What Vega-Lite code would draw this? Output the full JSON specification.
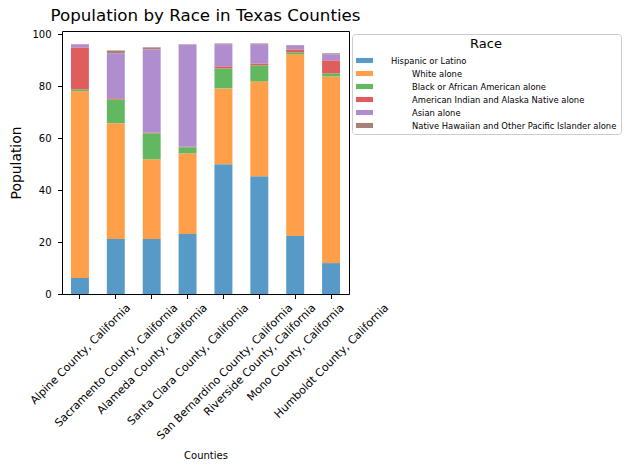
{
  "$schema": "https://vega.github.io/schema/vega-lite/v6.json",
  "autosize": {"type": "none"},
  "padding": {"left": 62, "top": 31, "right": 281, "bottom": 176},
  "width": 287,
  "height": 263,
  "title": {"text": "Population by Race in Texas Counties", "fontSize": 16.7, "font": "DejaVu Sans", "fontWeight": "normal", "color": "black", "anchor": "middle", "offset": 5},
  "config": {
    "font": "DejaVu Sans",
    "view": {"stroke": "black", "strokeWidth": 1},
    "axis": {"labelColor": "black", "titleColor": "black", "tickColor": "black", "domainColor": "black", "titleFontWeight": "normal", "grid": false}
  },
  "data": {"values": [
    {"county": "Alpine County, California", "race": "Hispanic or Latino", "pct": 6.2},
    {"county": "Alpine County, California", "race": "White alone", "pct": 71.9},
    {"county": "Alpine County, California", "race": "Black or African American alone", "pct": 0.7},
    {"county": "Alpine County, California", "race": "American Indian and Alaska Native alone", "pct": 16.2},
    {"county": "Alpine County, California", "race": "Asian alone", "pct": 1.2},
    {"county": "Alpine County, California", "race": "Native Hawaiian and Other Pacific Islander alone", "pct": 0.0},
    {"county": "Sacramento County, California", "race": "Hispanic or Latino", "pct": 21.2},
    {"county": "Sacramento County, California", "race": "White alone", "pct": 44.6},
    {"county": "Sacramento County, California", "race": "Black or African American alone", "pct": 9.2},
    {"county": "Sacramento County, California", "race": "American Indian and Alaska Native alone", "pct": 0.4},
    {"county": "Sacramento County, California", "race": "Asian alone", "pct": 17.3},
    {"county": "Sacramento County, California", "race": "Native Hawaiian and Other Pacific Islander alone", "pct": 1.1},
    {"county": "Alameda County, California", "race": "Hispanic or Latino", "pct": 21.2},
    {"county": "Alameda County, California", "race": "White alone", "pct": 30.7},
    {"county": "Alameda County, California", "race": "Black or African American alone", "pct": 10.0},
    {"county": "Alameda County, California", "race": "American Indian and Alaska Native alone", "pct": 0.3},
    {"county": "Alameda County, California", "race": "Asian alone", "pct": 32.0},
    {"county": "Alameda County, California", "race": "Native Hawaiian and Other Pacific Islander alone", "pct": 0.8},
    {"county": "Santa Clara County, California", "race": "Hispanic or Latino", "pct": 23.1},
    {"county": "Santa Clara County, California", "race": "White alone", "pct": 31.1},
    {"county": "Santa Clara County, California", "race": "Black or African American alone", "pct": 2.3},
    {"county": "Santa Clara County, California", "race": "American Indian and Alaska Native alone", "pct": 0.2},
    {"county": "Santa Clara County, California", "race": "Asian alone", "pct": 39.4},
    {"county": "Santa Clara County, California", "race": "Native Hawaiian and Other Pacific Islander alone", "pct": 0.1},
    {"county": "San Bernardino County, California", "race": "Hispanic or Latino", "pct": 50.0},
    {"county": "San Bernardino County, California", "race": "White alone", "pct": 29.2},
    {"county": "San Bernardino County, California", "race": "Black or African American alone", "pct": 7.7},
    {"county": "San Bernardino County, California", "race": "American Indian and Alaska Native alone", "pct": 0.8},
    {"county": "San Bernardino County, California", "race": "Asian alone", "pct": 8.5},
    {"county": "San Bernardino County, California", "race": "Native Hawaiian and Other Pacific Islander alone", "pct": 0.3},
    {"county": "Riverside County, California", "race": "Hispanic or Latino", "pct": 45.4},
    {"county": "Riverside County, California", "race": "White alone", "pct": 36.5},
    {"county": "Riverside County, California", "race": "Black or African American alone", "pct": 6.2},
    {"county": "Riverside County, California", "race": "American Indian and Alaska Native alone", "pct": 0.7},
    {"county": "Riverside County, California", "race": "Asian alone", "pct": 7.4},
    {"county": "Riverside County, California", "race": "Native Hawaiian and Other Pacific Islander alone", "pct": 0.3},
    {"county": "Mono County, California", "race": "Hispanic or Latino", "pct": 22.3},
    {"county": "Mono County, California", "race": "White alone", "pct": 70.0},
    {"county": "Mono County, California", "race": "Black or African American alone", "pct": 0.8},
    {"county": "Mono County, California", "race": "American Indian and Alaska Native alone", "pct": 1.1},
    {"county": "Mono County, California", "race": "Asian alone", "pct": 1.6},
    {"county": "Mono County, California", "race": "Native Hawaiian and Other Pacific Islander alone", "pct": 0.1},
    {"county": "Humboldt County, California", "race": "Hispanic or Latino", "pct": 11.9},
    {"county": "Humboldt County, California", "race": "White alone", "pct": 71.9},
    {"county": "Humboldt County, California", "race": "Black or African American alone", "pct": 1.2},
    {"county": "Humboldt County, California", "race": "American Indian and Alaska Native alone", "pct": 5.0},
    {"county": "Humboldt County, California", "race": "Asian alone", "pct": 2.3},
    {"county": "Humboldt County, California", "race": "Native Hawaiian and Other Pacific Islander alone", "pct": 0.4}
  ]},
  "mark": {"type": "bar"},
  "encoding": {
    "x": {
      "field": "county", "type": "nominal",
      "sort": ["Alpine County, California", "Sacramento County, California", "Alameda County, California", "Santa Clara County, California", "San Bernardino County, California", "Riverside County, California", "Mono County, California", "Humboldt County, California"],
      "scale": {"paddingInner": 0.5, "paddingOuter": 0.25},
      "axis": {
        "title": "Counties", "titleFontSize": 10, "titleY": 164, "titleBaseline": "alphabetic",
        "labelFontSize": 11, "labelAngle": -45, "labelAlign": "right", "labelBaseline": "top", "labelPadding": 3, "labelLimit": 400, "tickSize": 4.5, "domain": false,
        "labelOffset": {
          "condition": [
            {"test": "datum.value === 'Alpine County, California'", "value": 44.7},
            {"test": "datum.value === 'Sacramento County, California'", "value": 56.1},
            {"test": "datum.value === 'Alameda County, California'", "value": 49.8},
            {"test": "datum.value === 'Santa Clara County, California'", "value": 55.2},
            {"test": "datum.value === 'San Bernardino County, California'", "value": 63.4},
            {"test": "datum.value === 'Riverside County, California'", "value": 50.6},
            {"test": "datum.value === 'Mono County, California'", "value": 43.1}
          ],
          "value": 51.7
        }
      }
    },
    "y": {
      "field": "pct", "type": "quantitative", "stack": "zero",
      "scale": {"domain": [0, 101.3], "nice": false},
      "axis": {"title": "Population", "titleFontSize": 13.9, "labelFontSize": 10, "values": [0, 20, 40, 60, 80, 100], "tickSize": 4.5, "labelPadding": 6.5, "titlePadding": 8, "domain": false}
    },
    "color": {
      "field": "race", "type": "nominal",
      "sort": ["Hispanic or Latino", "White alone", "Black or African American alone", "American Indian and Alaska Native alone", "Asian alone", "Native Hawaiian and Other Pacific Islander alone"],
      "scale": {
        "domain": ["Hispanic or Latino", "White alone", "Black or African American alone", "American Indian and Alaska Native alone", "Asian alone", "Native Hawaiian and Other Pacific Islander alone"],
        "range": ["#5799c7", "#ff9f4a", "#61b861", "#e05d5e", "#af8dce", "#a98078"]
      },
      "legend": {
        "orient": "none", "legendX": 290, "legendY": 3,
        "title": "Race", "titleFontSize": 13, "titleFontWeight": "normal", "titleColor": "black", "titleAnchor": "middle", "titlePadding": 1,
        "labelFontSize": 8.4, "labelColor": "black", "labelOffset": 39, "labelLimit": 400,
        "symbolType": "M-1,-0.3H1V0.3H-1Z", "symbolSize": 289, "symbolStrokeWidth": 0, "symbolOpacity": 1,
        "rowPadding": -1.5,
        "strokeColor": "#cccccc", "fillColor": "white", "cornerRadius": 3, "padding": 4,
        "encode": {"labels": {"update": {"dx": {"signal": "datum.label == 'Hispanic or Latino' ? -21 : 0"}}}}
      }
    },
    "order": {"field": "county"}
  }
}
